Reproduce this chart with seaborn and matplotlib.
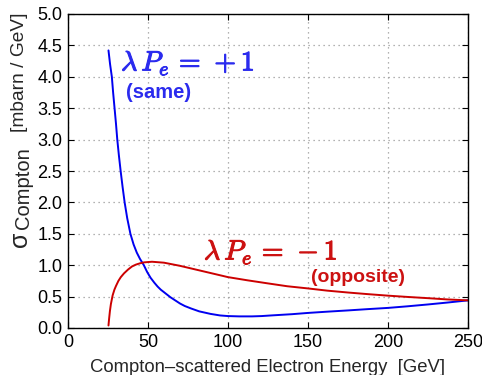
import numpy as np
import pandas as pd
import matplotlib
matplotlib.use("Agg")
import matplotlib.pyplot as plt
import matplotlib.patheffects as pe
import seaborn as sns

# Dati (energia in GeV, sigma in mbarn/GeV)
energy_same = [25.3, 26.3, 27.4, 28.2, 29.1, 30.0, 30.8, 31.8, 32.9, 34.1, 35.4, 37.0, 39.0,
               41.0, 43.0, 45.0, 47.4, 49.5, 51.6, 54.0, 56.0, 58.0, 60.0, 62.0, 64.0,
               67.0, 70.0, 73.0, 77.0, 82.0, 89.0, 95.0, 100.0, 107.0, 115.0, 121.0,
               127.0, 140.0, 150.0, 162.0, 175.0, 187.0, 200.0, 212.0, 225.0, 237.0, 250.0]
sigma_same = [4.42, 4.2, 4.0, 3.75, 3.5, 3.25, 3.0, 2.75, 2.5, 2.25, 2.0, 1.75, 1.5,
              1.33, 1.2, 1.1, 1.0, 0.89, 0.8, 0.72, 0.66, 0.61, 0.57, 0.53, 0.49,
              0.44, 0.39, 0.35, 0.31, 0.265, 0.225, 0.2, 0.19, 0.185, 0.185, 0.19,
              0.2, 0.22, 0.24, 0.26, 0.28, 0.30, 0.32, 0.345, 0.375, 0.405, 0.44]

energy_opp = [25.3, 25.7, 26.2, 26.8, 27.9, 29.0, 30.0, 31.5, 33.0, 35.0, 37.5, 40.0,
              42.5, 45.0, 47.5, 50.0, 52.5, 55.0, 60.0, 65.0, 70.0, 80.0, 90.0, 100.0,
              112.0, 125.0, 137.0, 150.0, 162.0, 175.0, 187.0, 200.0, 212.0, 225.0,
              237.0, 250.0]
sigma_opp = [0.04, 0.15, 0.27, 0.38, 0.52, 0.61, 0.67, 0.75, 0.81, 0.87, 0.93, 0.98,
             1.01, 1.03, 1.045, 1.05, 1.055, 1.05, 1.04, 1.015, 0.99, 0.93, 0.87, 0.81,
             0.76, 0.71, 0.665, 0.63, 0.595, 0.565, 0.54, 0.515, 0.495, 0.475,
             0.455, 0.44]

BLUE = "#0000f0"
RED = "#cc0000"
BLUE_TXT = "#2b2bee"
RED_TXT = "#cc1111"

df = pd.concat([
    pd.DataFrame({"E": energy_same, "sigma": sigma_same, "pol": "same"}),
    pd.DataFrame({"E": energy_opp, "sigma": sigma_opp, "pol": "opposite"}),
], ignore_index=True)

sns.set_style("ticks")
plt.rcParams["font.family"] = ["Liberation Sans", "DejaVu Sans"]

W, H = 482, 375
fig = plt.figure(figsize=(W / 100, H / 100), dpi=100)
ax = fig.add_axes([68 / W, 1 - 328 / H, 400 / W, 314 / H])

sns.lineplot(data=df, x="E", y="sigma", hue="pol", palette={"same": BLUE, "opposite": RED},
             sort=False, linewidth=1.4, legend=False, ax=ax)

ax.set_xlim(0, 250)
ax.set_ylim(0, 5.0)
ax.set_xticks(np.arange(0, 251, 50))
ax.set_yticks(np.arange(0, 5.01, 0.5))
ax.set_yticklabels([f"{v:.1f}" for v in np.arange(0, 5.01, 0.5)])
ax.grid(True, linestyle=(0, (1, 3)), color="#999999", linewidth=0.9)
ax.tick_params(direction="in", length=4, width=0.8, top=True, right=True,
               labelsize=13, colors="black", pad=4)
for s in ax.spines.values():
    s.set_linewidth(1.0)
    s.set_color("black")

ax.set_xlabel("Compton\u2013scattered Electron Energy  [GeV]", fontsize=13.3, labelpad=6)
ax.set_ylabel("")

# etichetta asse y: sigma con pedice "Compton"
fig.text(19.5 / W, 1 - 239 / H, "\u03c3", fontsize=18, rotation=90, ha="center", va="center")
fig.text(23.5 / W, 1 - 188 / H, "Compton", fontsize=14.5, rotation=90, ha="center", va="center")
fig.text(20 / W, 1 - 72 / H, "[mbarn / GeV]", fontsize=13.8, rotation=90, ha="center", va="center")

stroke_b = [pe.withStroke(linewidth=0.8, foreground=BLUE_TXT)]
stroke_r = [pe.withStroke(linewidth=0.8, foreground=RED_TXT)]
ax.text(33.2, 4.10, r"$\lambda\,P_e\,=\,+1$", color=BLUE_TXT, fontsize=20,
        math_fontfamily="cm", va="baseline", ha="left", path_effects=stroke_b)
ax.text(36.5, 3.75, "(same)", color=BLUE_TXT, fontsize=14.5, fontweight="bold",
        va="center", ha="left")
ax.text(85, 1.09, r"$\lambda\,P_e\,=\,-1$", color=RED_TXT, fontsize=20,
        math_fontfamily="cm", va="baseline", ha="left", path_effects=stroke_r)
ax.text(152, 0.80, "(opposite)", color=RED_TXT, fontsize=14, fontweight="bold",
        va="center", ha="left")

fig.savefig("out.png", dpi=100)
